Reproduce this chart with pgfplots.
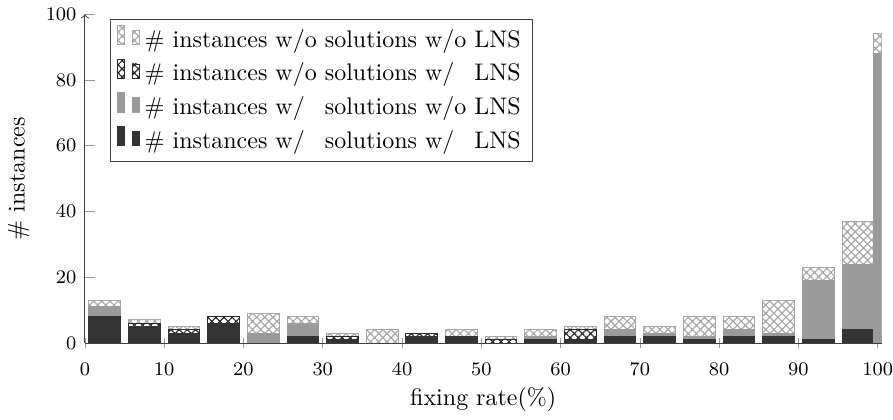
\documentclass[border=0pt]{standalone}
\usepackage{pgfplots}
\pgfplotsset{compat=1.18}
\usetikzlibrary{patterns.meta}
\definecolor{darkbar}{HTML}{333333}
\definecolor{graybar}{HTML}{9A9A9A}
\definecolor{lighthatch}{HTML}{A8A8A8}
\definecolor{darkhatch}{HTML}{2A2A2A}
\pgfplotsset{
  common/.style={
    scale only axis, width=332pt, height=137pt,
    xmin=0, xmax=100.5, ymin=0, ymax=100,
    ybar stacked,
  },
  sD/.style={fill=darkbar, draw=darkbar},
  sG/.style={fill=graybar, draw=graybar},
  sH/.style={draw=darkhatch, pattern={Hatch[angle=45,distance=2.4pt,line width=0.5pt]}, pattern color=darkhatch},
  sL/.style={draw=lighthatch, pattern={Hatch[angle=45,distance=2.4pt,line width=0.5pt]}, pattern color=lighthatch},
}
\begin{document}
\begin{tikzpicture}
\begin{axis}[
  common,
  bar width=4,
  axis lines*=left,
  axis line style={black!75},
  y axis line style={->},
  xtick={0,10,...,100}, ytick={0,20,...,100},
  tick label style={font=\footnotesize},
  xticklabel style={yshift=-2.7pt, inner xsep=0pt},
  major tick style={black!40},
  xtick align=center, ytick align=inside,
  xlabel={fixing rate(\%)}, ylabel={\# instances},
  xlabel style={yshift=2pt},
  reverse legend,
  legend cell align=left,
  legend image code/.code={
    \draw[#1] (-1.5pt,-0.2em) rectangle (1.5pt,0.6em);
    \draw[#1] (4.5pt,-0.2em) rectangle (7.5pt,0.4em);},
  legend style={at={(0.031,0.985)}, anchor=north west, draw=black!75, font=\normalsize, row sep=1pt},
]
\addplot+[sD] coordinates {(2.5,8) (7.5,5) (12.5,3) (17.5,6) (22.5,0) (27.5,2) (32.5,1) (37.5,0) (42.5,2) (47.5,2) (52.5,0) (57.5,1) (62.5,1) (67.5,2) (72.5,2) (77.5,1) (82.5,2) (87.5,2) (92.5,1) (97.5,4)};
\addlegendentry{\# instances w/\phantom{o} solutions w/\phantom{o} LNS}
\addplot+[sG] coordinates {(2.5,3) (7.5,0) (12.5,0) (17.5,0) (22.5,3) (27.5,4) (32.5,0) (37.5,0) (42.5,0) (47.5,0) (52.5,0) (57.5,1) (62.5,0) (67.5,2) (72.5,1) (77.5,1) (82.5,2) (87.5,1) (92.5,18) (97.5,20)};
\addlegendentry{\# instances w/\phantom{o} solutions w/o LNS}
\addplot+[sH] coordinates {(2.5,0) (7.5,1) (12.5,1) (17.5,2) (22.5,0) (27.5,0) (32.5,1) (37.5,0) (42.5,1) (47.5,0) (52.5,1) (57.5,0) (62.5,3) (67.5,0) (72.5,0) (77.5,0) (82.5,0) (87.5,0) (92.5,0) (97.5,0)};
\addlegendentry{\# instances w/o solutions w/\phantom{o} LNS}
\addplot+[sL] coordinates {(2.5,2) (7.5,1) (12.5,1) (17.5,0) (22.5,6) (27.5,2) (32.5,1) (37.5,4) (42.5,0) (47.5,2) (52.5,1) (57.5,2) (62.5,1) (67.5,4) (72.5,2) (77.5,6) (82.5,4) (87.5,10) (92.5,4) (97.5,13)};
\addlegendentry{\# instances w/o solutions w/o LNS}
\end{axis}
\begin{axis}[common, bar width=1, hide axis]
\addplot+[sG] coordinates {(100,88)};
\addplot+[sL] coordinates {(100,6)};
\end{axis}
\end{tikzpicture}
\end{document}
